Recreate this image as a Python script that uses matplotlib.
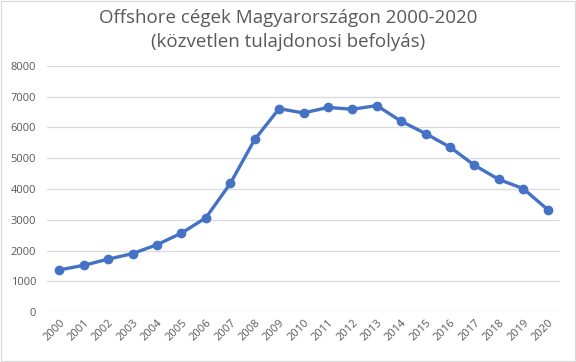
import matplotlib
matplotlib.use("Agg")
import matplotlib.pyplot as plt
from matplotlib.patches import Rectangle

years = [str(y) for y in range(2000, 2021)]
values = [1370, 1520, 1720, 1900, 2190, 2565, 3065, 4180, 5610, 6610,
          6470, 6650, 6590, 6710, 6200, 5800, 5360, 4770, 4310, 4010, 3330]
yticks = [0, 1000, 2000, 3000, 4000, 5000, 6000, 7000, 8000]
title = "Offshore cégek Magyarországon 2000-2020\n(közvetlen tulajdonosi befolyás)"

plt.rcParams['font.family'] = ['Open Sans', 'DejaVu Sans']
fig = plt.figure(figsize=(5.76, 3.62), dpi=100)
ax = fig.add_axes([0.082, 0.138, 0.890, 0.680])

x = list(range(len(years)))
ax.plot(x, values, color='#4472C4', linewidth=2.4, marker='o', markersize=6,
        markerfacecolor='#4472C4', markeredgecolor='#4472C4', zorder=3)

ax.set_xlim(-0.5, len(years) - 0.5)
ax.set_ylim(0, 8000)
ax.set_yticks(yticks)
ax.set_yticklabels([str(v) for v in yticks])
ax.set_xticks(x)
ax.set_xticklabels(years, rotation=45, ha='right', rotation_mode='anchor')
ax.tick_params(axis='both', length=0, labelsize=8, colors='#595959', pad=8)
ax.tick_params(axis='x', pad=4)
ax.grid(axis='y', color='#D9D9D9', linewidth=0.9)
ax.set_axisbelow(True)
for s in ax.spines.values():
    s.set_visible(False)

fig.text(0.5, 0.975, title, ha='center', va='top', fontsize=13.5, color='#595959',
         linespacing=1.4)
fig.patches.append(Rectangle((0.002, 0.003), 0.996, 0.994, transform=fig.transFigure,
                             fill=False, edgecolor='#D9D9D9', linewidth=0.8))
fig.savefig('out.png', dpi=100)
